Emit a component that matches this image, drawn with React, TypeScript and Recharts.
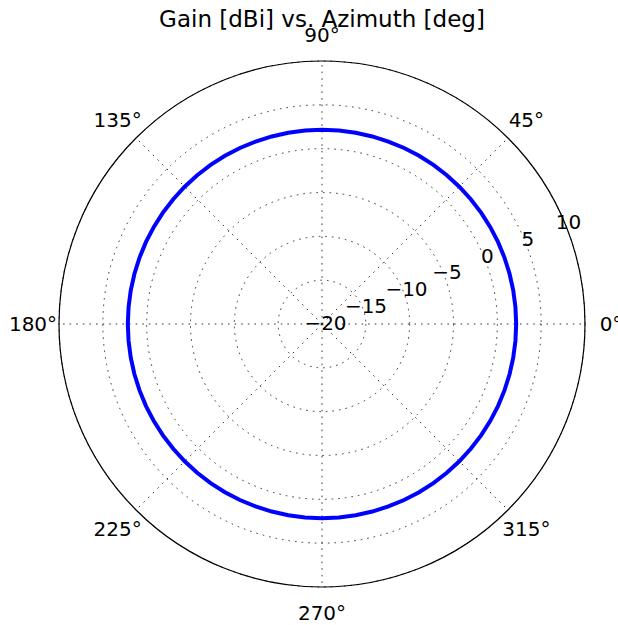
import React from 'react';
import { RadarChart, PolarGrid, PolarAngleAxis, PolarRadiusAxis, Radar } from 'recharts';

// azimuth samples (deg) and measured gain (dBi) at each one
const azimuthDeg = [
  0, 5, 10, 15, 20, 25, 30, 35, 40, 45, 50, 55,
  60, 65, 70, 75, 80, 85, 90, 95, 100, 105, 110, 115,
  120, 125, 130, 135, 140, 145, 150, 155, 160, 165, 170, 175,
  180, 185, 190, 195, 200, 205, 210, 215, 220, 225, 230, 235,
  240, 245, 250, 255, 260, 265, 270, 275, 280, 285, 290, 295,
  300, 305, 310, 315, 320, 325, 330, 335, 340, 345, 350, 355,
];
const gainDbi = [
  2.15, 2.15, 2.15, 2.15, 2.15, 2.15, 2.15, 2.15, 2.15, 2.15, 2.15, 2.15,
  2.15, 2.15, 2.15, 2.15, 2.15, 2.15, 2.15, 2.15, 2.15, 2.15, 2.15, 2.15,
  2.15, 2.15, 2.15, 2.15, 2.15, 2.15, 2.15, 2.15, 2.15, 2.15, 2.15, 2.15,
  2.15, 2.15, 2.15, 2.15, 2.15, 2.15, 2.15, 2.15, 2.15, 2.15, 2.15, 2.15,
  2.15, 2.15, 2.15, 2.15, 2.15, 2.15, 2.15, 2.15, 2.15, 2.15, 2.15, 2.15,
  2.15, 2.15, 2.15, 2.15, 2.15, 2.15, 2.15, 2.15, 2.15, 2.15, 2.15, 2.15,
];
const angleTicks = [0, 45, 90, 135, 180, 225, 270, 315];
const radialTicks = [-20, -15, -10, -5, 0, 5, 10];
const radialDomain = [-20, 10];

const title = 'Gain [dBi] vs. Azimuth [deg]';
const FONT = '"DejaVu Sans", sans-serif';

// recharts walks the angle axis clockwise from startAngle, so feed it 0, 355, 350 ... 5
const rows = azimuthDeg.map((az, i) => ({ az, gain: gainDbi[i] }));
const data = [rows[0], ...rows.slice(1).reverse()];

const AngleTick = (props: any) => {
  const { x, y, payload } = props;
  if (!angleTicks.includes(payload.value)) return null;
  return (
    <text x={x} y={y + 7.3} textAnchor="middle" fontSize={20} fontFamily={FONT} fill="#000">
      {`${payload.value}°`}
    </text>
  );
};

const RadiusTick = (props: any) => {
  const { x, y, payload } = props;
  const label = String(payload.value).replace('-', '\u2212');
  return (
    <text x={x + 3.5} y={y - 1.5 + 7.3} textAnchor="middle" fontSize={20} fontFamily={FONT} fill="#000">
      {label}
    </text>
  );
};

export default function App() {
  return (
    <div style={{ position: 'absolute', left: 0, top: 0, width: 618, height: 625, background: '#fff' }}>
      <RadarChart
        width={618}
        height={625}
        data={data}
        cx={322}
        cy={324}
        outerRadius={263}
        startAngle={0}
        endAngle={-360}
        margin={{ top: 0, right: 0, bottom: 0, left: 0 }}
      >
        <PolarGrid
          gridType="circle"
          polarAngles={angleTicks}
          stroke="#222"
          strokeWidth={0.9}
          strokeDasharray="1.6 5"
        />
        <PolarAngleAxis
          dataKey="az"
          axisLineType="circle"
          axisLine={{ stroke: '#000', strokeWidth: 1.2 }}
          tickLine={false}
          tickSize={26}
          tick={<AngleTick />}
        />
        <PolarRadiusAxis
          type="number"
          angle={22.5}
          domain={radialDomain}
          ticks={radialTicks}
          tickCount={7}
          axisLine={false}
          tickLine={false}
          tick={<RadiusTick />}
        />
        <Radar
          dataKey="gain"
          stroke="#0000ff"
          strokeWidth={4}
          fill="none"
          fillOpacity={0}
          dot={false}
          isAnimationActive={false}
        />
      </RadarChart>
      <svg width={618} height={625} style={{ position: 'absolute', left: 0, top: 0, pointerEvents: 'none' }}>
        <text x={322} y={27} textAnchor="middle" fontSize={23} fontFamily={FONT} fill="#000">
          {title}
        </text>
      </svg>
    </div>
  );
}
